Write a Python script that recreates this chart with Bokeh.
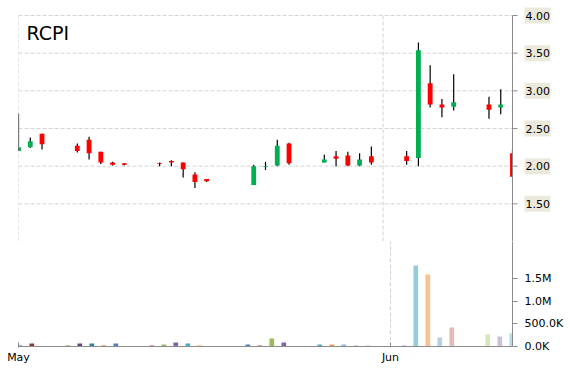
import pandas as pd
from bokeh.plotting import figure
from bokeh.layouts import column
from bokeh.models import ColumnDataSource, Range1d, FixedTicker, Label
from bokeh.core.properties import value
from bokeh.embed import file_html
from bokeh.resources import INLINE

symbol = "RCPI"

dates = ["2019-05-01", "2019-05-02", "2019-05-03", "2019-05-06", "2019-05-07",
         "2019-05-08", "2019-05-09", "2019-05-10", "2019-05-13", "2019-05-14",
         "2019-05-15", "2019-05-16", "2019-05-17", "2019-05-21", "2019-05-22",
         "2019-05-23", "2019-05-24", "2019-05-27", "2019-05-28", "2019-05-29",
         "2019-05-30", "2019-05-31", "2019-06-03", "2019-06-04", "2019-06-05",
         "2019-06-06", "2019-06-07", "2019-06-10", "2019-06-11", "2019-06-12"]
opens = [2.20, 2.25, 2.43, 2.27, 2.35, 2.19, 2.05, 2.04, 2.04, 2.07,
         2.05, 1.89, 1.83, 1.75, 1.99, 2.01, 2.30, 2.05, 2.13, 2.14,
         2.01, 2.13, 2.13, 2.11, 3.10, 2.82, 2.79, 2.82, 2.78, 2.17]
highs = [2.70, 2.38, 2.43, 2.30, 2.39, 2.19, 2.06, 2.04, 2.05, 2.08,
         2.05, 1.92, 1.83, 2.02, 2.06, 2.35, 2.31, 2.15, 2.20, 2.19,
         2.17, 2.26, 2.20, 3.64, 3.34, 2.89, 3.22, 2.92, 3.02, 2.22]
lows = [2.20, 2.24, 2.22, 2.18, 2.09, 2.03, 2.01, 2.01, 2.00, 2.00,
        1.85, 1.71, 1.79, 1.75, 1.95, 2.00, 2.02, 2.05, 2.00, 2.00,
        2.00, 2.02, 2.02, 2.00, 2.78, 2.65, 2.74, 2.63, 2.69, 1.86]
closes = [2.25, 2.33, 2.29, 2.20, 2.17, 2.05, 2.02, 2.02, 2.03, 2.05,
          1.96, 1.79, 1.80, 2.00, 2.00, 2.27, 2.04, 2.09, 2.10, 2.01,
          2.09, 2.05, 2.07, 3.54, 2.82, 2.78, 2.85, 2.75, 2.82, 1.86]
volumes = [40000, 20000, 66000, 22000, 66000, 66000, 22000, 66000, 22000, 44000,
           88000, 66000, 22000, 44000, 22000, 176000, 88000, 44000, 44000, 44000,
           22000, 22000, 22000, 1787000, 1588000, 199000, 419000, 265000, 221000, 287000]

price_ticks = [1.5, 2.0, 2.5, 3.0, 3.5, 4.0]
price_tick_labels = ["1.50", "2.00", "2.50", "3.00", "3.50", "4.00"]
price_grid = [1.0, 1.5, 2.0, 2.5, 3.0, 3.5, 4.0]
vol_ticks = [0, 500000, 1000000, 1500000]
vol_tick_labels = ["0.0K", "500.0K", "1.0M", "1.5M"]
month_ticks = ["2019-05-01", "2019-06-01"]
month_labels = ["May", "Jun"]
x_start, x_end = "2019-05-01", "2019-06-12"

# styles
UP = "#00B050"
DOWN = "#FF0000"
vol_palette = ["#E46C0A",
               "#376092", "#953735", "#77933C", "#604A7B", "#31859C", "#E46C0A",
               "#4F81BD", "#C0504D", "#9BBB59", "#8064A2", "#4BACC6", "#F79646",
               "#4F81BD", "#C0504D", "#9BBB59", "#8064A2", "#4BACC6", "#F79646",
               "#95B3D7", "#D99694", "#C3D69B", "#B3A2C7", "#93CDDD", "#FAC08F",
               "#B9CDE5", "#E6B9B8", "#D7E4BD", "#CCC1DA", "#B7DEE8"]
GRID = "#D4D4D4"
AXIS = "#8C8C8C"
LABEL_BG = "#EBE9DC"
FONT = "DejaVu Sans"
DAY = 86400000

# layout (pixels)
LEFT = 18
FW = 494          # plotting area width
RIGHT = 50        # axis label column
TOP = 15
FH = 226          # price plotting area height
VH = 105          # volume plotting area height
BOTTOM = 22

PMIN, PMAX = 1.0, 4.0
PX_PER_UNIT = FH / (PMAX - PMIN)
t0 = pd.Timestamp(x_start).value // 10**6
t1 = pd.Timestamp(x_end).value // 10**6
PX_MS = (t1 - t0) / FW            # ms per pixel on the price panel

dt = pd.to_datetime(dates)
src = ColumnDataSource(dict(
    date=dt,
    vdate=dt - pd.Timedelta(days=0.89),
    open=opens, high=highs, low=lows, close=closes,
    top=[max(o, c) for o, c in zip(opens, closes)],
    bottom=[min(o, c) for o, c in zip(opens, closes)],
    color=[UP if c >= o else DOWN for o, c in zip(opens, closes)],
    volume=volumes,
    vcolor=vol_palette[:len(volumes)],
))

month_ms = [int(pd.Timestamp(m).value // 10**6) for m in month_ticks]

# ---------------- price panel (frame includes the label column on the right)
p1 = figure(frame_width=FW + RIGHT, frame_height=FH + TOP, output_backend="svg",
            toolbar_location=None, title=None, x_axis_type="datetime",
            x_axis_location=None, y_axis_location=None,
            x_range=Range1d(t0, t1 + RIGHT * PX_MS),
            y_range=Range1d(PMIN, PMAX + TOP / PX_PER_UNIT),
            min_border_left=LEFT, min_border_right=0, min_border_top=0, min_border_bottom=0)
p1.outline_line_color = None
p1.background_fill_color = "white"
p1.border_fill_color = "white"
p1.xgrid.grid_line_color = None
p1.ygrid.grid_line_color = None

# grid
p1.segment(x0=t0, x1=t1, y0=price_grid, y1=price_grid,
           line_color=GRID, line_dash="4 2", line_width=1)
p1.segment(x0=month_ms, x1=month_ms, y0=PMIN, y1=PMAX,
           line_color=GRID, line_dash="4 2", line_width=1)

# candles
p1.segment(x0="date", y0="low", x1="date", y1="high", source=src,
           line_color="black", line_width=1.2)
p1.vbar(x="date", top="top", bottom="bottom", width=0.41 * DAY, source=src,
        fill_color="color", line_color=None)

# mask right of the plotting area, then the price axis
p1.quad(left=t1, right=t1 + RIGHT * PX_MS + DAY, bottom=PMIN - 1, top=PMAX + 1,
        fill_color="white", line_color=None)
p1.segment(x0=t1, x1=t1, y0=PMIN, y1=PMAX, line_color=AXIS, line_width=1)
p1.segment(x0=t1, x1=t1 + 5 * PX_MS, y0=price_grid, y1=price_grid,
           line_color=AXIS, line_width=1)
lab = ColumnDataSource(dict(y=price_ticks, text=price_tick_labels))
p1.rect(x=t1 + 25 * PX_MS, y="y", width=26, height=16,
        width_units="screen", height_units="screen", source=lab,
        fill_color=LABEL_BG, line_color=None)
p1.text(x=t1 + 13 * PX_MS, y="y", text="text", source=lab, text_font=value(FONT),
        text_font_size="11px", text_color="#000000",
        text_align="left", text_baseline="middle")

p1.add_layout(Label(x=8, y=209, x_units="screen", y_units="screen", text=symbol,
                    text_font=FONT, text_font_size="19px",
                    text_color="#000000", text_baseline="alphabetic"))

# ---------------- volume panel
p2 = figure(frame_width=FW, frame_height=VH, output_backend="svg",
            toolbar_location=None, title=None, x_axis_type="datetime",
            y_axis_location="right",
            x_range=Range1d(pd.Timestamp(x_start),
                            pd.Timestamp(x_start) + pd.Timedelta(days=41.17)),
            y_range=Range1d(0, 2316000),
            min_border_left=LEFT, min_border_right=RIGHT, min_border_top=0,
            min_border_bottom=BOTTOM)
p2.outline_line_color = None
p2.background_fill_color = "white"
p2.border_fill_color = "white"

p2.vbar(x="vdate", top="volume", bottom=0, width=0.39 * DAY, source=src,
        fill_color="vcolor", line_color=None)

va = p2.yaxis[0]
va.ticker = FixedTicker(ticks=vol_ticks, minor_ticks=[])
va.major_label_overrides = dict(zip(vol_ticks, vol_tick_labels))
va.axis_line_color = AXIS
va.major_tick_line_color = AXIS
va.major_tick_out = 5
va.major_tick_in = 0
va.minor_tick_line_color = None
va.major_label_standoff = 7
va.major_label_text_font = FONT
va.major_label_text_font_size = "11px"
va.major_label_text_color = "#000000"

xa = p2.xaxis[0]
xa.ticker = FixedTicker(ticks=month_ms, minor_ticks=[])
xa.major_label_overrides = dict(zip(month_ms, month_labels))
xa.axis_line_color = AXIS
xa.major_tick_line_color = AXIS
xa.minor_tick_line_color = None
xa.major_tick_in = 4
xa.major_tick_out = 1
xa.major_label_standoff = 3
xa.major_label_text_font = FONT
xa.major_label_text_font_size = "11px"
xa.major_label_text_color = "#000000"

p2.ygrid.grid_line_color = None
p2.xgrid.ticker = FixedTicker(ticks=month_ms)
p2.xgrid.grid_line_color = GRID
p2.xgrid.grid_line_dash = "4 2"

layout = column(p1, p2, spacing=0)
open("out.html", "w").write(file_html(layout, INLINE))
